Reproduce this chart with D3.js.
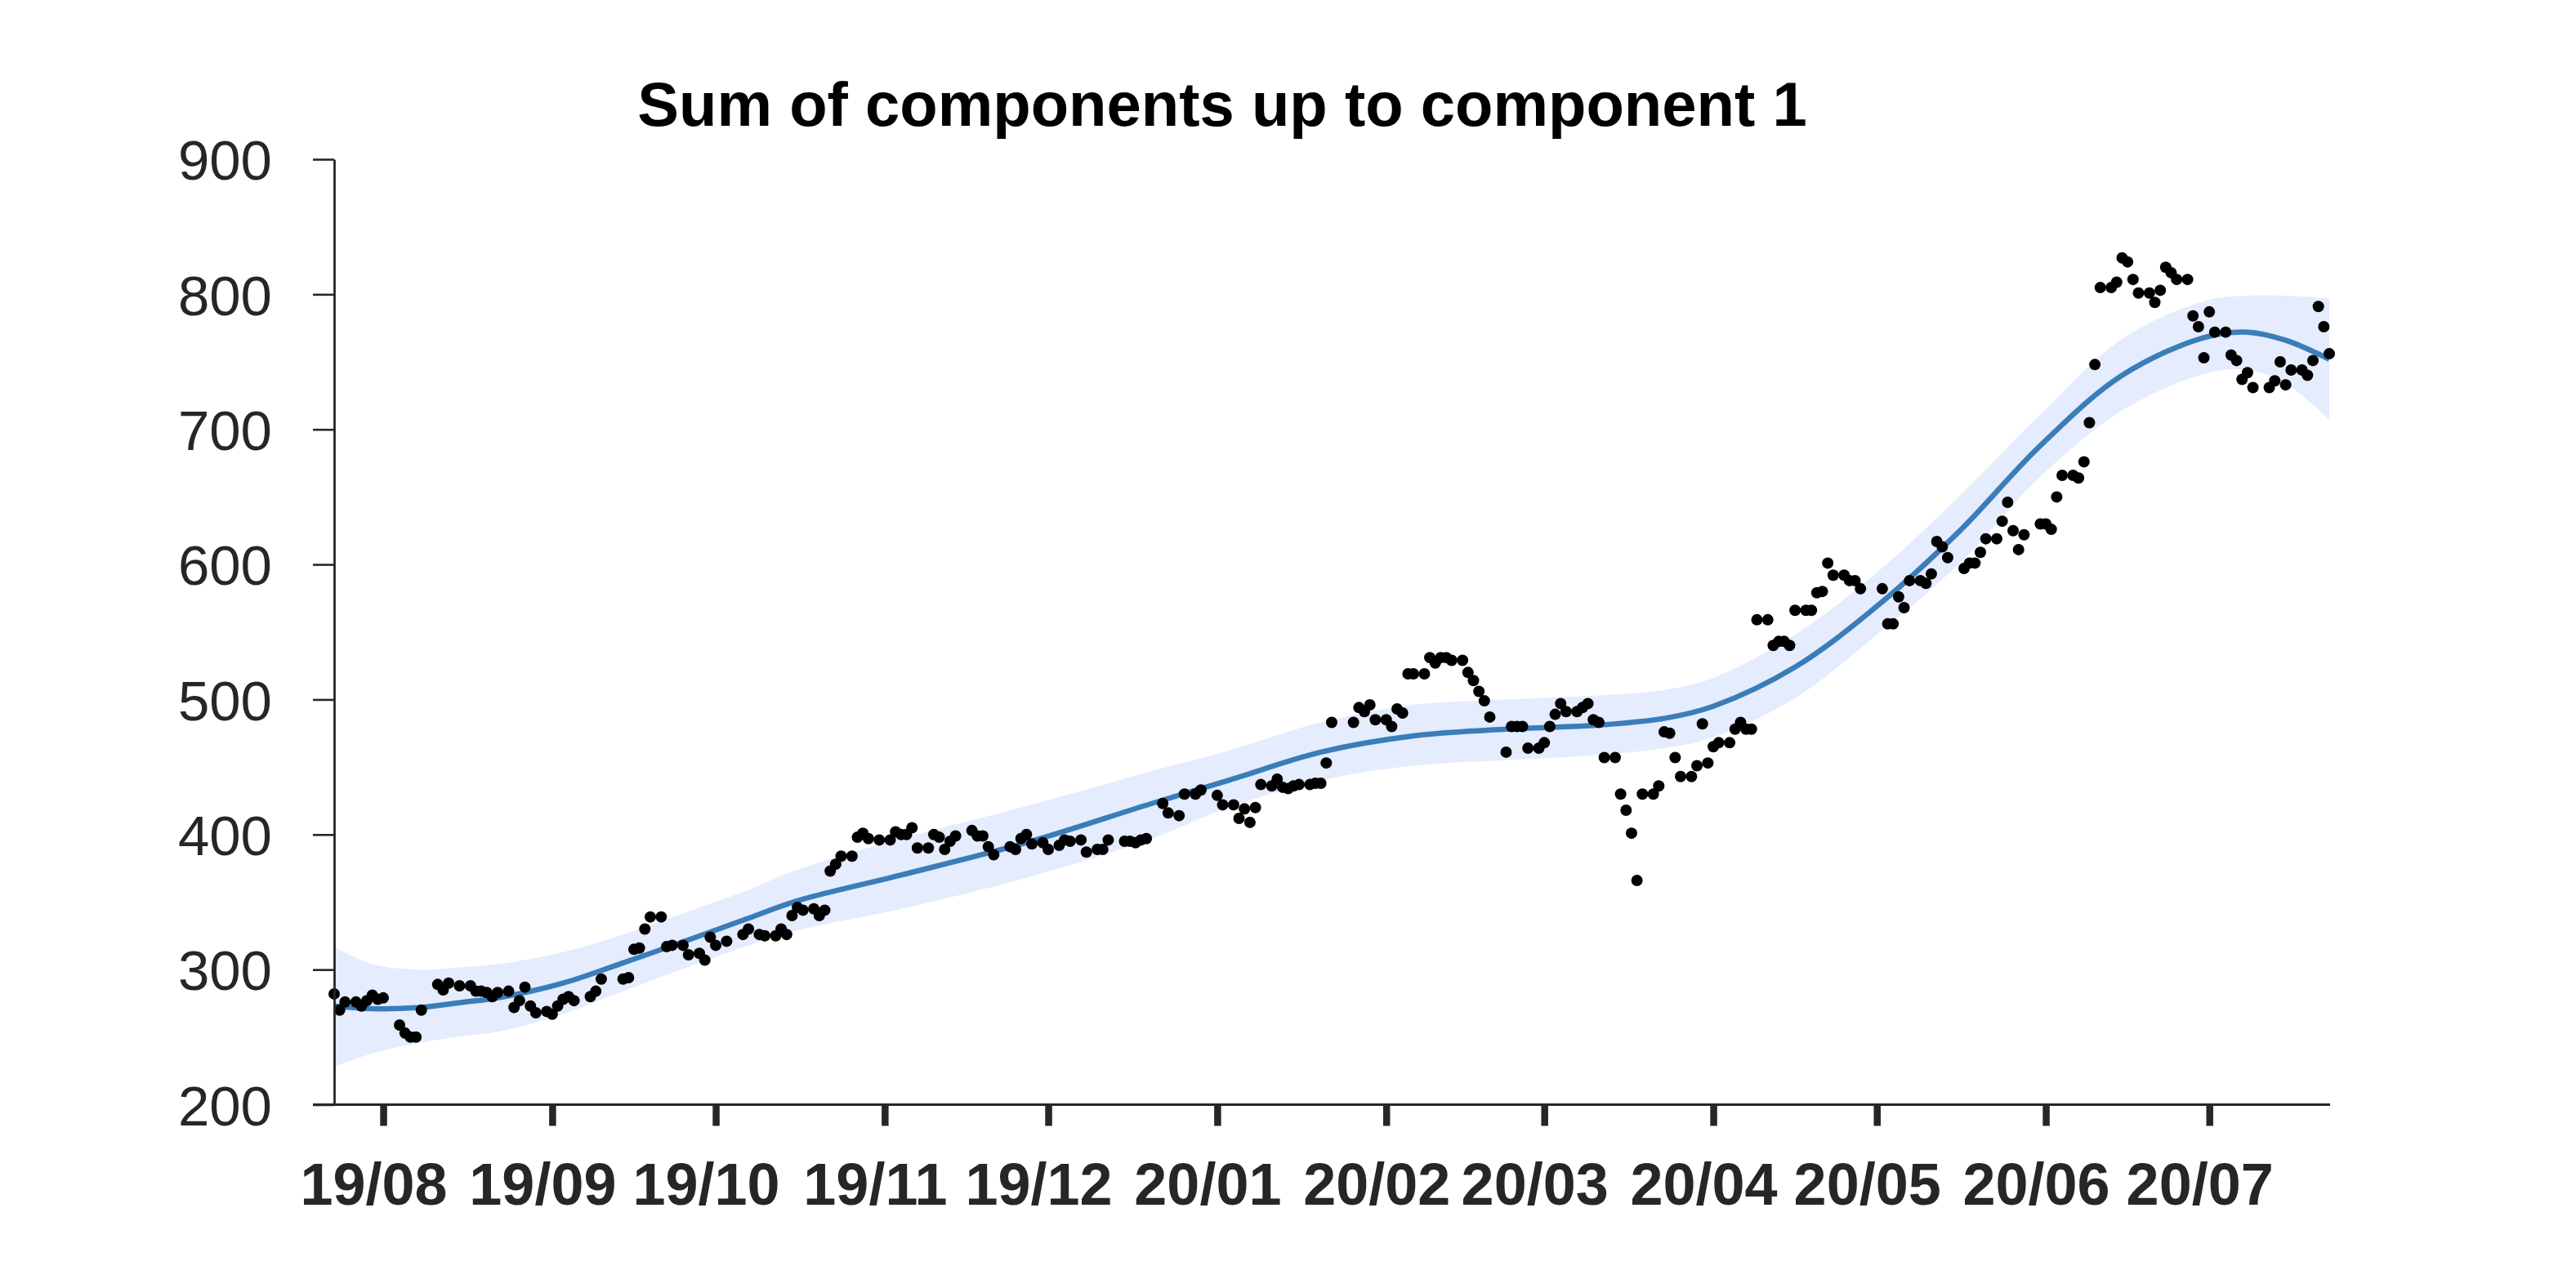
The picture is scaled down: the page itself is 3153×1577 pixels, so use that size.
<!DOCTYPE html>
<html>
<head>
<meta charset="utf-8">
<script src="https://cdn.jsdelivr.net/npm/d3@7"></script>
<style>
html,body{margin:0;padding:0;background:#fff;}
svg{display:block;}
</style>
</head>
<body>
<script>
// ---------------- DATA ----------------
const chartTitle = "Sum of components up to component 1";
const startDate = "2019-07-23";   // day 0
const endDate = "2020-07-23";     // day 366

// observations: [days since startDate, value]
const observations = [
[0,282],[1,270],[2,276],[4,276],[5,273],[6,277],[7,281],[8,278],[9,279],
[12,259],[13,253],[14,250],[15,250],[16,270],
[19,289],[20,285],[21,290],[23,288],[25,288],[26,284],[27,284],[28,283],[29,280],[30,283],
[32,284],[33,272],[34,277],[35,287],[36,273],[37,268],[39,269],[40,267],[41,273],[42,278],[43,280],[44,277],
[47,280],[48,284],[49,293],[53,293],[54,294],[55,315],[56,316],[57,330],[58,339],[60,339],[61,317],[62,318],[64,318],[65,311],[67,312],[68,307],[69,324],[70,318],[72,321],
[75,326],[76,330],[78,326],[79,325],[81,325],[82,330],[83,326],[84,340],[85,346],[86,344],[88,345],[89,340],[90,344],[91,373],[92,378],[93,384],[95,384],[96,398],[97,401],[98,397],
[100,396],[102,396],[103,402],[104,400],[105,400],[106,405],[107,390],[109,390],[110,400],[111,398],[112,389],[113,395],[114,399],
[117,403],[118,399],[119,399],[120,391],[121,385],[124,391],[125,389],[126,397],[127,400],[128,393],[130,394],[131,389],[133,392],[134,396],[135,395],[137,396],[138,387],[140,389],[141,389],[142,396],
[145,395],[146,395],[147,394],[148,396],[149,397],[152,423],[153,416],[155,414],[156,430],[158,430],[159,433],[162,429],[163,422],[165,422],[166,412],[167,419],[168,409],[169,420],[170,437],
[172,436],[173,441],[174,435],[175,434],[176,436],[177,437],[179,437],[180,438],[181,438],[182,453],[183,483],
[187,483],[188,494],[189,491],[190,496],[191,485],[193,485],[194,480],[195,493],[196,490],[197,519],[198,519],[200,519],[201,531],[202,527],[203,531],[204,531],[205,529],[207,529],[208,520],[209,514],[210,506],[211,499],[212,487],
[215,461],[216,480],[217,480],[218,480],[219,464],[221,464],[222,468],[223,480],[224,489],[225,497],[226,491],[228,491],[229,494],[230,497],[231,485],[232,483],[233,457],[235,457],[236,430],[237,418],[238,401],[239,366],[240,430],[242,430],[243,436],[244,476],[245,475],[246,457],[247,443],[249,443],[250,451],[251,482],[252,453],[253,465],[254,468],[256,468],[257,478],[258,483],[259,478],[260,478],
[261,559],[263,559],[264,540],[265,543],[266,543],[267,540],[268,566],[270,566],[271,566],[272,579],[273,580],[274,601],[275,592],[277,592],[278,588],[279,588],[280,582],[284,582],[285,556],[286,556],[287,576],[288,568],[289,588],[291,588],[292,586],[293,593],[294,617],[295,613],[296,605],
[299,597],[300,601],[301,601],[302,609],[303,619],[305,619],[306,632],[307,646],[308,625],[309,611],[310,622],[313,630],[314,630],[315,626],[316,650],[317,666],[319,666],[320,664],[321,676],[322,705],[323,748],[324,805],[326,805],[327,809],[328,827],[329,824],[330,811],[331,801],[333,801],[334,794],[335,803],[336,820],[337,816],[338,811],[340,811],[341,784],[342,776],[343,753],[344,787],[345,772],[347,772],[348,755],[349,751],[350,737],[351,742],[352,731],[355,731],[356,736],[357,750],[358,733],[359,744],[361,744],[362,740],[363,751],[364,791],[365,776],[366,756]
];

// posterior mean and band of the fitted component
const fitDay   = [0, 7, 16, 24, 30, 42, 53, 65, 76, 85, 104, 127, 150, 164, 181, 198, 215, 232, 244, 253, 268, 283, 298, 313, 328, 343, 351, 358, 366];
const fitMean  = [273, 271, 272, 276, 279, 290, 305, 322, 338, 351, 370, 394, 423, 440, 461, 473, 478, 481, 486, 495, 524, 569, 624, 688, 740, 768, 772, 766, 752];
const fitLower = [228, 238, 246, 251, 254, 267, 284, 302, 318, 329, 345, 368, 397, 420, 440, 451, 455, 459, 464, 472, 501, 548, 600, 665, 714, 741, 744, 734, 707];
const fitUpper = [317, 304, 300, 302, 304, 313, 326, 343, 359, 374, 397, 421, 447, 462, 483, 496, 500, 503, 507, 516, 548, 594, 650, 711, 767, 795, 799, 799, 797];

const yTickValues = [200, 300, 400, 500, 600, 700, 800, 900];
const xTickDates = ["2019-08-01","2019-09-01","2019-10-01","2019-11-01","2019-12-01","2020-01-01",
                    "2020-02-01","2020-03-01","2020-04-01","2020-05-01","2020-06-01","2020-07-01"];

// ---------------- DRAW ----------------
const W = 3153, H = 1577;
const FONT = "'Liberation Sans', Arial, Helvetica, sans-serif";
const AXIS = "#262626";

const parse = d3.utcParse("%Y-%m-%d");
const t0 = parse(startDate);
const dayToDate = d => d3.utcDay.offset(t0, d);

const x = d3.scaleUtc().domain([t0, parse(endDate)]).range([409, 2851]);
const y = d3.scaleLinear().domain([200, 900]).range([1352.5, 195]);

const svg = d3.select("body").append("svg")
  .attr("width", W).attr("height", H)
  .style("font-family", FONT);

svg.append("rect").attr("width", W).attr("height", H).attr("fill", "#fff");

const fit = fitDay.map((d, i) => ({date: dayToDate(d), mean: fitMean[i], lo: fitLower[i], hi: fitUpper[i]}));
const smooth = d3.curveCatmullRom.alpha(0.5);

// band
svg.append("path")
  .datum(fit)
  .attr("fill", "#e4ecfd")
  .attr("d", d3.area()
    .x(d => x(d.date))
    .y0(d => y(d.lo))
    .y1(d => y(d.hi))
    .curve(smooth));

// mean line
svg.append("path")
  .datum(fit)
  .attr("fill", "none")
  .attr("stroke", "#3a7db8")
  .attr("stroke-width", 6.5)
  .attr("d", d3.line()
    .x(d => x(d.date))
    .y(d => y(d.mean))
    .curve(smooth));

// observations
svg.append("g")
  .selectAll("circle")
  .data(observations)
  .join("circle")
  .attr("cx", d => x(dayToDate(d[0])))
  .attr("cy", d => y(d[1]))
  .attr("r", 7)
  .attr("fill", "#000");

// y axis
const tickLen = 26;
const gy = svg.append("g")
  .attr("transform", `translate(${x.range()[0]},0)`)
  .call(d3.axisLeft(y).tickValues(yTickValues).tickSize(tickLen).tickSizeOuter(0).tickFormat(d3.format("d")));
gy.select(".domain").attr("stroke", AXIS).attr("stroke-width", 2.8);
gy.selectAll(".tick line").attr("stroke", AXIS).attr("stroke-width", 2.6);
gy.selectAll(".tick text")
  .attr("x", -76)
  .attr("dy", "0.358em")
  .attr("fill", AXIS)
  .style("font-size", "69px")
  .style("font-family", FONT);

// x axis
const gx = svg.append("g")
  .attr("transform", `translate(0,${y.range()[0]})`)
  .call(d3.axisBottom(x).tickValues(xTickDates.map(parse)).tickSize(tickLen).tickSizeOuter(0)
        .tickFormat(d3.utcFormat("%y/%m")));
gx.select(".domain").remove();
gx.append("line")
  .attr("x1", x.range()[0] - tickLen).attr("x2", x.range()[1] + 1)
  .attr("y1", 0).attr("y2", 0)
  .attr("stroke", AXIS).attr("stroke-width", 3.2);
gx.selectAll(".tick line").attr("stroke", AXIS).attr("stroke-width", 8.5);
gx.selectAll(".tick text")
  .attr("y", 122.5)
  .attr("dy", 0)
  .attr("dx", -12)
  .attr("fill", AXIS)
  .style("font-size", "72px")
  .style("font-weight", "bold")
  .style("font-family", FONT);

// title
svg.append("text")
  .attr("x", 1496)
  .attr("y", 154)
  .attr("text-anchor", "middle")
  .attr("fill", "#000")
  .style("font-size", "76px")
  .style("font-weight", "bold")
  .text(chartTitle);
</script>
</body>
</html>
